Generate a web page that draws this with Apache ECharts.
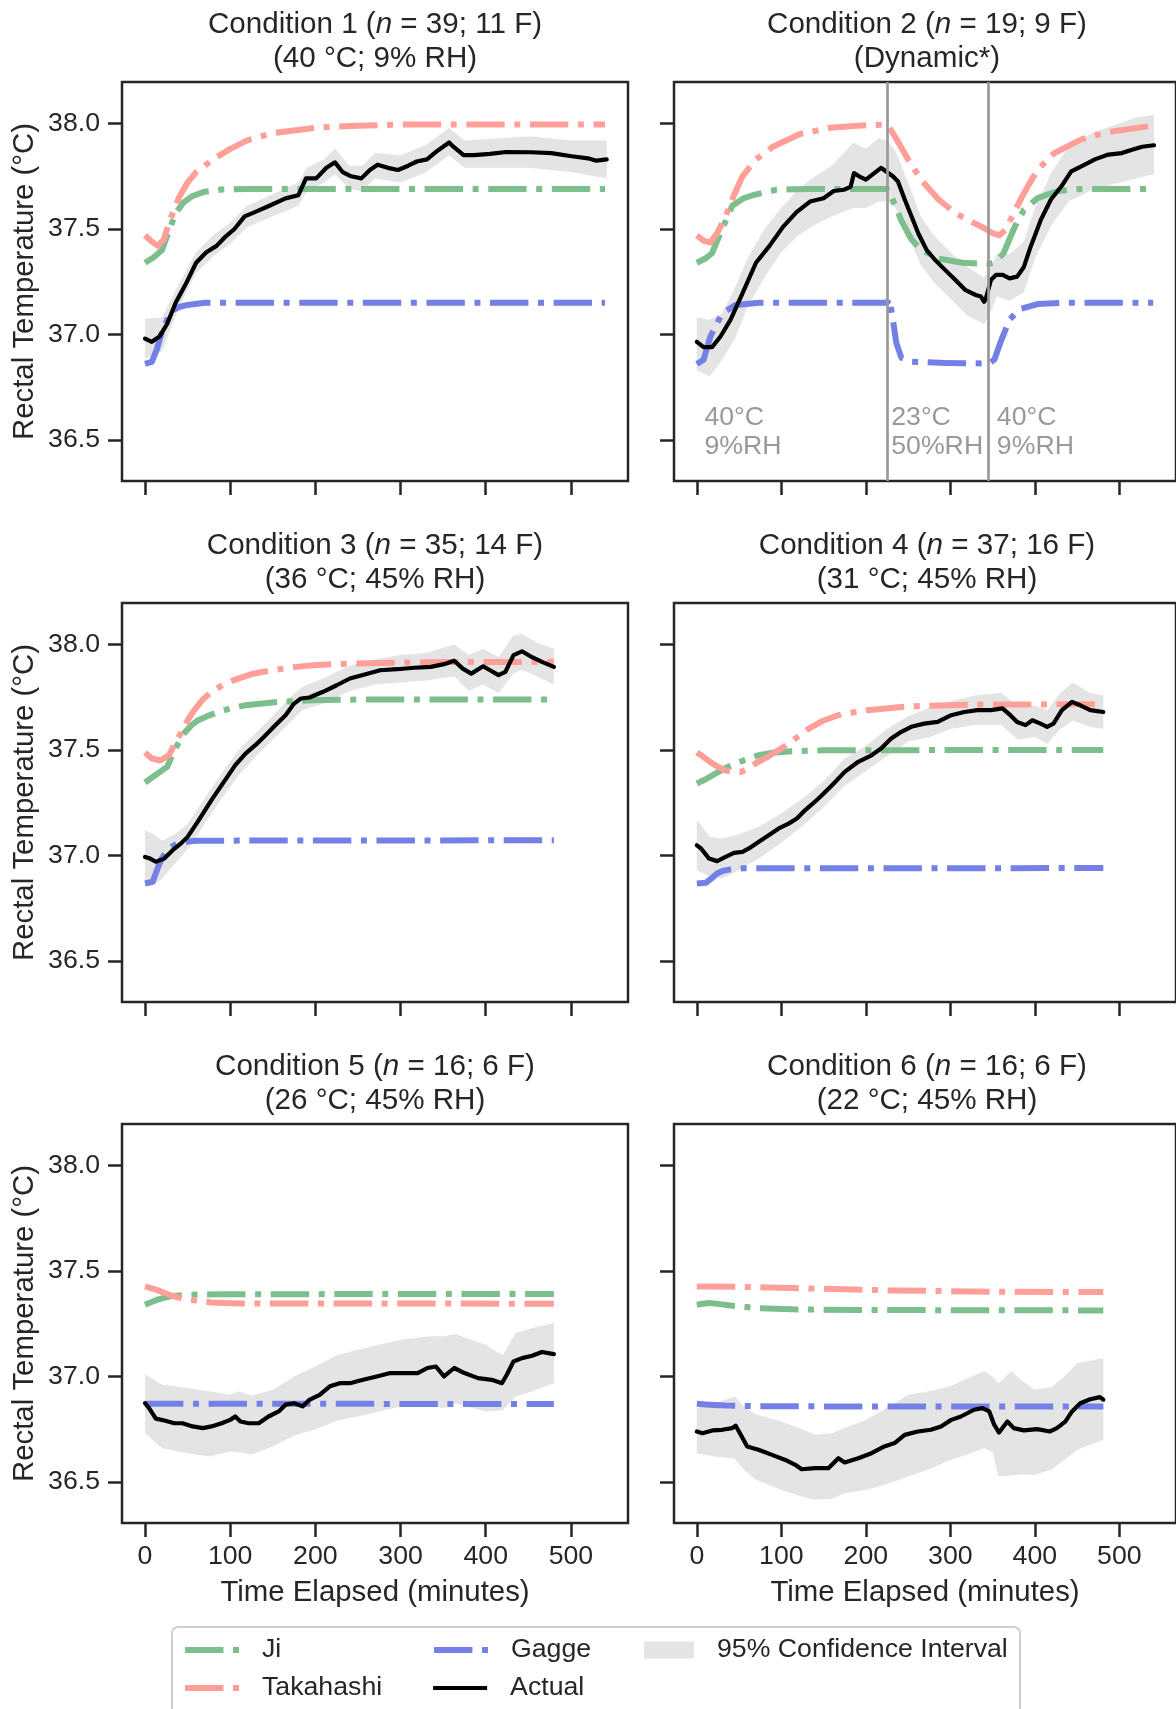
<!DOCTYPE html>
<html>
<head>
<meta charset="utf-8">
<script src="https://cdn.jsdelivr.net/npm/echarts@6/dist/echarts.min.js"></script>
<style>
  html, body { margin: 0; padding: 0; background: #fff; }
  #chart { width: 1176px; height: 1709px; }
</style>
</head>
<body>
<div id="chart"></div>
<script>
// values, [minutes, °C]
const titles = [
  ['Condition 1 (', ' = 39; 11 F)', '(40 °C; 9% RH)'],
  ['Condition 2 (', ' = 19; 9 F)', '(Dynamic*)'],
  ['Condition 3 (', ' = 35; 14 F)', '(36 °C; 45% RH)'],
  ['Condition 4 (', ' = 37; 16 F)', '(31 °C; 45% RH)'],
  ['Condition 5 (', ' = 16; 6 F)', '(26 °C; 45% RH)'],
  ['Condition 6 (', ' = 16; 6 F)', '(22 °C; 45% RH)'],
]
const xTicks = [0, 100, 200, 300, 400, 500]
const yTicks = [36.5, 37.0, 37.5, 38.0]

// condition 1
const c1Ji = [[0,37.34],[10,37.365],[20,37.40],[28,37.49],[36,37.575],[45,37.625],[55,37.655],[70,37.677],[90,37.687],[120,37.69],[540,37.69]]
const c1Tak = [[0,37.47],[8,37.44],[15,37.42],[22,37.45],[30,37.55],[40,37.65],[50,37.72],[60,37.77],[80,37.83],[100,37.88],[120,37.92],[150,37.955],[200,37.98],[250,37.99],[300,37.995],[540,37.995]]
const c1Gag = [[0,36.86],[8,36.87],[14,36.93],[19,37.0],[25,37.06],[31,37.11],[40,37.13],[50,37.14],[70,37.15],[540,37.15]]
const c1Actual = [[0,36.98],[8,36.965],[17,36.99],[26,37.05],[36,37.15],[48,37.24],[60,37.34],[72,37.39],[84,37.42],[93.5,37.46],[105,37.5],[117,37.56],[129,37.58],[146,37.61],[165,37.645],[180,37.66],[189,37.74],[201,37.74],[213,37.79],[223,37.816],[232,37.77],[242,37.75],[254,37.74],[264,37.78],[273,37.805],[285,37.79],[297,37.78],[309,37.8],[319,37.82],[331,37.83],[343,37.87],[357,37.91],[362,37.89],[374,37.85],[386,37.85],[405,37.856],[424,37.865],[453,37.864],[477,37.86],[501,37.845],[520,37.835],[530,37.824],[542,37.83]]
const c1CiTime = [0,20,40,60,80,100,120,150,180,190,210,223,240,255,270,300,330,357,375,400,450,500,542]
const c1CiLo = [36.885,36.92,37.13,37.29,37.37,37.43,37.51,37.56,37.61,37.68,37.72,37.76,37.69,37.68,37.74,37.72,37.77,37.85,37.79,37.79,37.79,37.77,37.74]
const c1CiHi = [37.076,37.08,37.24,37.39,37.47,37.53,37.61,37.665,37.72,37.79,37.83,37.88,37.8,37.8,37.86,37.85,37.9,37.98,37.92,37.925,37.94,37.92,37.92]

// condition 2 (dynamic)
const c2Ji = [[0,37.34],[10,37.36],[18,37.385],[30,37.5],[42,37.61],[55,37.645],[66,37.66],[94,37.686],[130,37.69],[225,37.69],[230,37.655],[236,37.6],[242,37.54],[254,37.45],[266,37.40],[286,37.36],[314,37.34],[345,37.334],[352,37.34],[363,37.385],[375,37.5],[387,37.59],[403,37.646],[427,37.68],[455,37.69],[540,37.69]]
const c2Tak = [[0,37.47],[8,37.445],[16,37.435],[24,37.48],[34,37.56],[44,37.66],[54,37.75],[70,37.83],[90,37.89],[122,37.95],[158,37.98],[190,37.99],[225,37.995],[232,37.955],[240,37.9],[250,37.83],[266,37.73],[286,37.64],[306,37.575],[327,37.53],[342,37.50],[350,37.48],[358,37.47],[366,37.5],[375,37.575],[387,37.67],[403,37.78],[423,37.86],[455,37.925],[487,37.96],[540,37.99]]
const c2Gag = [[0,36.86],[8,36.88],[16,36.99],[30,37.10],[46,37.14],[74,37.15],[225,37.15],[228,37.17],[232,37.07],[236,36.96],[242,36.89],[254,36.87],[294,36.865],[345,36.862],[352,36.88],[360,36.97],[370,37.07],[382,37.12],[403,37.144],[435,37.15],[540,37.15]]
const c2Actual = [[0,36.965],[8,36.94],[18,36.94],[28,36.99],[40,37.07],[54,37.195],[70,37.34],[86,37.42],[102,37.51],[118,37.58],[134,37.63],[150,37.646],[162,37.68],[174,37.686],[182,37.70],[186,37.765],[192,37.75],[200,37.734],[210,37.765],[218,37.79],[224,37.773],[232,37.75],[238,37.725],[246,37.64],[254,37.56],[262,37.48],[272,37.40],[282,37.353],[294,37.305],[306,37.258],[318,37.21],[330,37.187],[336,37.18],[340,37.155],[342,37.17],[348,37.258],[354,37.282],[362,37.282],[370,37.266],[379,37.274],[387,37.32],[395,37.416],[407,37.543],[419,37.64],[431,37.70],[443,37.773],[455,37.797],[471,37.83],[487,37.853],[503,37.86],[515,37.876],[527,37.89],[541,37.897]]
const c2CiTime = [0,15,30,45,60,80,100,120,140,160,185,200,215,225,235,250,265,280,300,320,340,345,355,370,387,400,420,440,470,500,520,541]
const c2CiLo = [36.83,36.80,36.88,36.98,37.13,37.27,37.39,37.47,37.52,37.56,37.6,37.6,37.63,37.63,37.6,37.47,37.33,37.25,37.17,37.09,37.05,37.08,37.18,37.16,37.2,37.36,37.52,37.63,37.69,37.72,37.74,37.76]
const c2CiHi = [37.08,37.07,37.1,37.22,37.36,37.5,37.6,37.69,37.75,37.8,37.91,37.88,37.93,37.92,37.87,37.72,37.56,37.47,37.39,37.32,37.27,37.3,37.38,37.38,37.44,37.6,37.77,37.89,37.96,38.0,38.03,38.04]
const c2PhaseTimes = [225, 345]
const c2PhaseLabels = [[9, '40°C\n9%RH'], [230, '23°C\n50%RH'], [355, '40°C\n9%RH']]

// condition 3
const c3Ji = [[0,37.346],[12,37.38],[26,37.42],[36,37.51],[46,37.58],[54,37.615],[62,37.64],[74,37.662],[86,37.68],[100,37.697],[118,37.712],[157,37.728],[197,37.736],[260,37.74],[480,37.74]]
const c3Tak = [[0,37.488],[8,37.46],[18,37.45],[28,37.475],[35,37.53],[42,37.58],[50,37.64],[58,37.69],[68,37.74],[78,37.776],[92,37.81],[106,37.834],[125,37.86],[149,37.878],[175,37.893],[197,37.902],[240,37.91],[276,37.913],[350,37.917],[480,37.918]]
const c3Gag = [[0,36.867],[9,36.875],[14,36.93],[19,36.98],[25,37.02],[30.5,37.04],[38,37.056],[46,37.064],[60,37.07],[480,37.072]]
const c3Actual = [[0,36.993],[6,36.985],[12.7,36.97],[22.6,36.985],[32.5,37.025],[42,37.056],[50,37.088],[62,37.16],[78,37.262],[94,37.357],[106,37.428],[118,37.483],[129.5,37.523],[139.5,37.562],[153,37.617],[165,37.665],[175,37.72],[183,37.744],[193,37.749],[209,37.776],[225,37.807],[240.5,37.839],[260,37.86],[276,37.878],[296,37.883],[316,37.89],[335.5,37.894],[351,37.907],[363,37.923],[373,37.886],[383,37.862],[397,37.897],[405,37.878],[415,37.855],[423,37.87],[432.6,37.95],[442.5,37.968],[454.4,37.94],[466,37.918],[480,37.894]]
const c3CiTime = [0,10,20,35,50,70,90,110,130,150,170,185,210,240,270,300,330,363,380,397,415,432,442,460,480]
const c3CiLo = [36.87,36.86,36.89,36.96,37.03,37.15,37.27,37.38,37.47,37.55,37.63,37.69,37.72,37.78,37.81,37.82,37.83,37.85,37.78,37.81,37.77,37.86,37.88,37.85,37.81]
const c3CiHi = [37.12,37.1,37.07,37.1,37.15,37.27,37.39,37.5,37.58,37.66,37.75,37.8,37.84,37.9,37.93,37.95,37.96,38.0,37.95,37.98,37.94,38.04,38.05,38.01,37.98]

// condition 4
const c4Ji = [[0,37.341],[10,37.36],[22,37.388],[34,37.415],[46,37.436],[60,37.458],[73,37.475],[90,37.487],[112.5,37.494],[150,37.499],[481,37.5]]
const c4Tak = [[0,37.488],[7,37.47],[15,37.445],[25,37.42],[35,37.402],[45,37.395],[52,37.396],[60,37.41],[69,37.435],[85,37.47],[105,37.52],[132,37.6],[150,37.64],[171,37.67],[205,37.69],[250,37.707],[320,37.715],[481,37.717]]
const c4Gag = [[0,36.867],[10.6,36.87],[17,36.89],[24,36.914],[31,36.927],[38,36.933],[55,36.939],[481,36.94]]
const c4Actual = [[0,37.048],[5,37.033],[14.5,36.985],[24,36.973],[34,36.993],[44,37.012],[54,37.017],[61.6,37.033],[73,37.064],[85,37.096],[97,37.128],[108.6,37.151],[118.4,37.175],[128,37.214],[144,37.27],[160,37.333],[175,37.396],[191,37.444],[206.7,37.475],[218,37.507],[230,37.554],[242,37.586],[253.7,37.61],[269,37.625],[285,37.633],[301,37.665],[316.5,37.68],[332,37.689],[348,37.689],[361.6,37.697],[371,37.665],[379,37.633],[389,37.618],[397,37.641],[406.7,37.625],[414.5,37.61],[422,37.625],[432,37.689],[444,37.728],[453.7,37.712],[465.5,37.689],[481,37.68]]
const c4CiTime = [0,15,30,50,75,100,125,150,175,200,225,250,275,300,330,360,380,400,415,430,445,465,481]
const c4CiLo = [36.93,36.9,36.89,36.93,36.99,37.06,37.14,37.23,37.33,37.4,37.47,37.54,37.56,37.6,37.62,37.62,37.55,37.56,37.53,37.6,37.64,37.61,37.6]
const c4CiHi = [37.17,37.09,37.08,37.1,37.14,37.2,37.27,37.35,37.46,37.52,37.6,37.66,37.7,37.73,37.76,37.77,37.71,37.71,37.69,37.77,37.82,37.77,37.76]

// condition 5
const c5Ji = [[0,37.34],[7,37.352],[14.7,37.364],[22,37.373],[30,37.38],[45,37.385],[58,37.388],[90,37.39],[480,37.391]]
const c5Tak = [[0,37.427],[10,37.415],[18.6,37.403],[30,37.385],[42,37.372],[60,37.36],[78,37.351],[110,37.346],[480,37.345]]
const c5Gag = [[0,36.871],[480,36.869]]
const c5Actual = [[0,36.873],[4.8,36.85],[12.7,36.80],[22.6,36.791],[34.5,36.778],[44,36.778],[56,36.763],[68,36.755],[78,36.763],[90,36.778],[100,36.794],[106,36.81],[112,36.786],[121.6,36.778],[133.5,36.778],[145,36.81],[157,36.834],[165,36.866],[175,36.873],[185,36.858],[193,36.889],[205,36.913],[217,36.953],[228.6,36.968],[240.5,36.968],[256,36.984],[272,37.0],[288,37.016],[304,37.016],[320,37.016],[331.6,37.04],[341.5,37.047],[351,37.0],[363,37.04],[375,37.016],[391,36.992],[407,36.984],[419,36.968],[424.7,37.008],[432.6,37.071],[442.5,37.087],[454.4,37.098],[466,37.116],[480,37.106]]
const c5CiTime = [0,20,50,75,100,110,125,150,175,200,225,250,300,335,350,365,400,420,435,455,480]
const c5CiLo = [36.73,36.66,36.636,36.62,36.644,36.64,36.63,36.668,36.72,36.75,36.79,36.81,36.858,36.86,36.85,36.87,36.834,36.84,36.905,36.93,36.968]
const c5CiHi = [37.01,36.96,36.945,36.93,36.913,36.93,36.91,36.937,37.0,37.047,37.1,37.127,37.174,37.19,37.19,37.2,37.15,37.1,37.206,37.23,37.253]

// condition 6
const c6Ji = [[0,37.34],[7,37.345],[14.5,37.348],[25,37.344],[42,37.335],[73,37.324],[112.5,37.318],[190,37.315],[481,37.313]]
const c6Tak = [[0,37.427],[50,37.425],[112,37.419],[230,37.408],[348,37.402],[481,37.40]]
const c6Gag = [[0,36.87],[15,36.866],[34,36.862],[73,36.859],[150,36.858],[481,36.858]]
const c6Actual = [[0,36.739],[6.7,36.731],[18.4,36.744],[30,36.747],[42,36.755],[46,36.766],[52,36.723],[59.6,36.668],[73,36.652],[89,36.628],[104.7,36.604],[116.5,36.581],[124,36.56],[140,36.565],[155.7,36.565],[167.5,36.612],[175,36.592],[191,36.612],[206.7,36.636],[222,36.668],[234,36.684],[246,36.723],[261.6,36.739],[277,36.747],[289,36.763],[301,36.794],[312.5,36.81],[328,36.842],[338,36.85],[346,36.834],[352,36.77],[357.6,36.734],[367.5,36.786],[375,36.755],[387,36.744],[402.7,36.75],[418,36.739],[426,36.755],[436,36.786],[444,36.834],[453.7,36.873],[465.5,36.892],[477,36.902],[481,36.89]]
const c6CiTime = [0,20,45,55,70,100,125,140,160,175,200,225,250,275,300,320,340,350,357,372,385,400,420,435,450,481]
const c6CiLo = [36.636,36.62,36.61,36.56,36.51,36.462,36.43,36.415,36.42,36.446,36.462,36.49,36.525,36.56,36.604,36.63,36.66,36.64,36.525,36.53,36.535,36.533,36.56,36.604,36.652,36.7]
const c6CiHi = [36.85,36.87,36.905,36.86,36.82,36.786,36.75,36.723,36.73,36.755,36.794,36.85,36.913,36.93,36.953,36.99,37.024,37.0,36.968,37.024,36.98,36.937,36.95,37.0,37.063,37.087]

const panels = [
  { ji: c1Ji, tak: c1Tak, gag: c1Gag, actual: c1Actual, ciT: c1CiTime, lo: c1CiLo, hi: c1CiHi },
  { ji: c2Ji, tak: c2Tak, gag: c2Gag, actual: c2Actual, ciT: c2CiTime, lo: c2CiLo, hi: c2CiHi },
  { ji: c3Ji, tak: c3Tak, gag: c3Gag, actual: c3Actual, ciT: c3CiTime, lo: c3CiLo, hi: c3CiHi },
  { ji: c4Ji, tak: c4Tak, gag: c4Gag, actual: c4Actual, ciT: c4CiTime, lo: c4CiLo, hi: c4CiHi },
  { ji: c5Ji, tak: c5Tak, gag: c5Gag, actual: c5Actual, ciT: c5CiTime, lo: c5CiLo, hi: c5CiHi },
  { ji: c6Ji, tak: c6Tak, gag: c6Gag, actual: c6Actual, ciT: c6CiTime, lo: c6CiLo, hi: c6CiHi },
]

const INK = '#262626'
const FONT = '"Liberation Sans", Arial, sans-serif'
const JI = '#7dbe8d'
const TAK = '#ff9f97'
const GAG = '#7580e6'
const BAND = '#e4e4e4'
const PHASE = '#999999'
const DASHDOT = [38.4, 9.6, 6, 9.6]

const colLeft = [122, 674]
const rowTop = [82, 603, 1124]
const gridW = 506
const gridH = 399

const grids = []
const xAxes = []
const yAxes = []
const series = []
const graphics = []

panels.forEach((p, i) => {
  const col = i % 2
  const row = Math.floor(i / 2)
  grids.push({
    left: colLeft[col], top: rowTop[row], width: gridW, height: gridH,
    show: true, borderColor: INK, borderWidth: 2.5, backgroundColor: 'transparent',
  })
  xAxes.push({
    gridIndex: i, type: 'value', min: -27, max: 567,
    axisLine: { show: false, onZero: false }, splitLine: { show: false },
    axisTick: { show: true, length: 14, customValues: xTicks, lineStyle: { color: INK, width: 2.5 } },
    axisLabel: { show: row === 2, customValues: xTicks, margin: 20, fontSize: 26.7, color: INK, fontFamily: FONT },
    name: row === 2 ? 'Time Elapsed (minutes)' : '',
    nameLocation: 'middle', nameGap: 55,
    nameTextStyle: { fontSize: 29.4, color: INK, fontFamily: FONT },
  })
  yAxes.push({
    gridIndex: i, type: 'value', min: 36.305, max: 38.197,
    axisLine: { show: false, onZero: false }, splitLine: { show: false },
    axisTick: { show: true, length: 14, customValues: yTicks, lineStyle: { color: INK, width: 2.5 } },
    axisLabel: {
      show: col === 0, customValues: yTicks, margin: 22, fontSize: 26.7, color: INK, fontFamily: FONT,
      formatter: (v) => v.toFixed(1),
    },
    name: col === 0 ? 'Rectal Temperature (°C)' : '',
    nameLocation: 'middle', nameGap: 83, nameRotate: 90,
    nameTextStyle: { fontSize: 29.4, color: INK, fontFamily: FONT },
  })

  // confidence band as one polygon through the axis scales
  series.push({
    type: 'custom', name: '95% Confidence Interval', xAxisIndex: i, yAxisIndex: i,
    silent: true, clip: true, z: 1,
    itemStyle: { color: BAND },
    data: p.ciT.map((t, k) => [t, p.lo[k], p.hi[k]]),
    encode: { x: 0, y: [1, 2] },
    renderItem(params, api) {
      if (params.dataIndex !== 0) return null
      const pts = []
      p.ciT.forEach((t, k) => pts.push(api.coord([t, p.hi[k]])))
      for (let k = p.ciT.length - 1; k >= 0; k--) pts.push(api.coord([p.ciT[k], p.lo[k]]))
      return { type: 'polygon', shape: { points: pts }, style: { fill: BAND } }
    },
  })

  const model = (name, data, color) => ({
    type: 'line', name, xAxisIndex: i, yAxisIndex: i, data,
    symbol: 'none', showSymbol: false, z: 3,
    lineStyle: { color, width: 6, type: DASHDOT, cap: 'butt', join: 'round' },
    itemStyle: { color },
    emphasis: { disabled: true },
  })
  series.push(model('Ji', p.ji, JI))
  series.push(model('Takahashi', p.tak, TAK))
  series.push(model('Gagge', p.gag, GAG))

  const actual = {
    type: 'line', name: 'Actual', xAxisIndex: i, yAxisIndex: i, data: p.actual,
    symbol: 'none', showSymbol: false, z: 4,
    lineStyle: { color: '#000', width: 4.2, join: 'round', cap: 'round' },
    itemStyle: { color: '#000' },
    emphasis: { disabled: true },
  }
  if (i === 1) {
    actual.markLine = {
      silent: true, symbol: ['none', 'none'], label: { show: false },
      lineStyle: { color: PHASE, width: 2.7, type: 'solid' },
      data: c2PhaseTimes.map((t) => ({ xAxis: t })),
      animation: false,
    }
    actual.markPoint = {
      silent: true, symbol: 'circle', symbolSize: 0,
      data: c2PhaseLabels.map(([t, txt]) => ({ coord: [t, 36.535], name: txt })),
      label: {
        show: true, position: 'right', distance: 0, formatter: (d) => d.name,
        color: PHASE, fontSize: 26.7, lineHeight: 29, fontFamily: FONT, align: 'left',
      },
      animation: false,
    }
  }
  series.push(actual)

  // two-line panel title with italic n
  const [pre, post, sub] = titles[i]
  graphics.push({
    type: 'text',
    x: colLeft[col] + gridW / 2, y: rowTop[row] - 74,
    style: {
      text: pre + '{i|n}' + post + '\n' + sub,
      align: 'center', verticalAlign: 'top',
      fontSize: 29.6, lineHeight: 34, fontFamily: FONT, fill: INK,
      rich: { i: { fontStyle: 'italic', fontSize: 29.6, lineHeight: 34, fontFamily: FONT, fill: INK } },
    },
  })
})

// legend frame
graphics.push({
  type: 'rect', shape: { x: 172, y: 1627, width: 848, height: 110, r: 6 },
  style: { fill: 'none', stroke: '#d0d0d0', lineWidth: 2 }, z: -1,
})

const legendText = { fontSize: 26.7, color: INK, fontFamily: FONT, lineHeight: 30, padding: [0, 0, 0, 18] }
const legendAt = (name, left, top, extra) => Object.assign({
  data: [name], left, top, padding: 0, selectedMode: false,
  itemWidth: 54, itemHeight: 6, textStyle: legendText,
  itemStyle: { opacity: 0 },
  lineStyle: { width: 6, cap: 'butt' },
}, extra || {})

const legends = [
  legendAt('Ji', 182, 1635),
  legendAt('Takahashi', 182, 1673),
  legendAt('Gagge', 431, 1635),
  legendAt('Actual', 431, 1673, { lineStyle: { width: 4.2, cap: 'butt' } }),
  legendAt('95% Confidence Interval', 644, 1635, {
    data: [{ name: '95% Confidence Interval', icon: 'rect' }],
    itemWidth: 50, itemHeight: 17, itemStyle: { color: BAND },
    textStyle: Object.assign({}, legendText, { padding: [0, 0, 0, 18] }),
  }),
]

const chart = echarts.init(document.getElementById('chart'), null, { renderer: 'canvas' })
chart.setOption({
  animation: false,
  backgroundColor: '#fff',
  textStyle: { fontFamily: FONT },
  grid: grids,
  xAxis: xAxes,
  yAxis: yAxes,
  legend: legends,
  graphic: graphics,
  series,
})
</script>
</body>
</html>
